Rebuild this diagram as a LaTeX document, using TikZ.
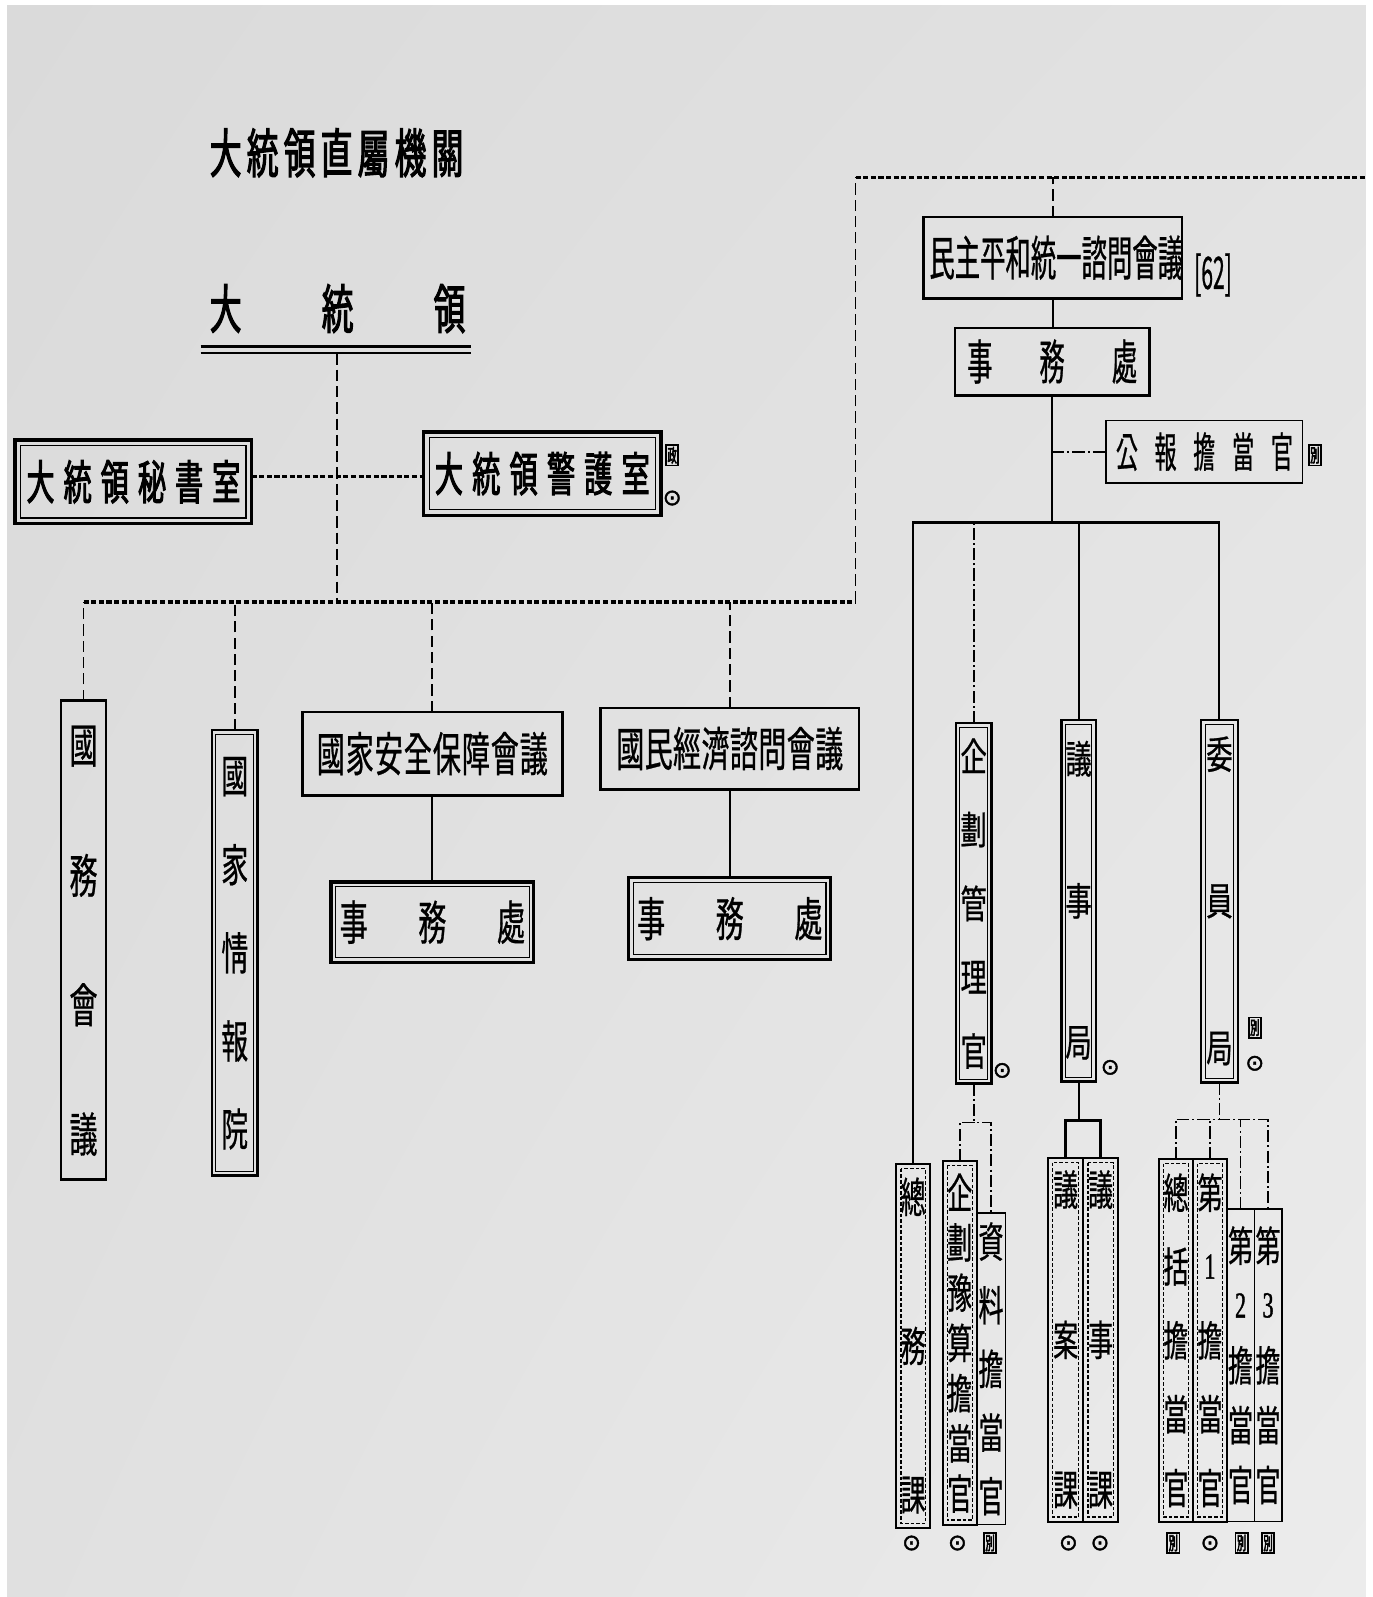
\documentclass[tikz,border=0pt]{standalone}
\usepackage{fontspec}
\usetikzlibrary{shadings}
\newfontfamily\fB{Noto Sans CJK KR}[FakeStretch=0.6, FakeBold=2]
\newfontfamily\fM{Noto Sans CJK KR}[FakeStretch=0.6, FakeBold=0.6]
\newfontfamily\fN{Noto Sans CJK KR}[FakeStretch=0.53, FakeBold=0.6]
\newfontfamily\fP{Noto Sans CJK KR}[FakeStretch=0.68, FakeBold=0.6]
\newfontfamily\fQ{Noto Sans CJK KR}[FakeStretch=0.47, FakeBold=0.6]
\newfontfamily\fI{Noto Sans CJK KR}[FakeStretch=0.5, FakeBold=3]
\newfontfamily\digf{Liberation Serif}[FakeStretch=0.6, FakeBold=1]
\newfontfamily\symf{DejaVu Sans}[FakeBold=2]
\newcommand\fs[1]{\fontsize{#1}{#1}\selectfont}
\newcommand\spr[2]{\makebox[#1][s]{#2}}
\newcommand\vch[1]{\hbox to 0pt{\hss\vbox to 1em{\vss\hbox{#1}\vss}\hss}}
\newcommand\vstk[2]{\vbox to #1{\offinterlineskip #2}}
\newcommand\dg[1]{\vch{\digf\fs{36}#1}}
\newcommand\inr[3]{\draw[line width=#1,#3] ([shift={(#2,-#2)}]path picture bounding box.north west) rectangle ([shift={(-#2,#2)}]path picture bounding box.south east);}
\definecolor{bgUL}{HTML}{DADADA}
\definecolor{bgUR}{HTML}{E2E2E2}
\definecolor{bgLL}{HTML}{E0E0E0}
\definecolor{bgLR}{HTML}{ECECEC}
\tikzset{
  every node/.style={inner sep=0pt, outer sep=0pt},
  bx/.style={draw=black, line width=2.6pt},
  thinbx/.style={draw=black, line width=1.5pt},
  dblbig/.style={draw=black, line width=3.5pt, path picture={\inr{1.2pt}{5.5pt}{}}},
  dblbx/.style={draw=black, line width=3pt, path picture={\inr{1.1pt}{4.5pt}{}}},
  dblsm/.style={draw=black, line width=2.4pt, path picture={\inr{1pt}{4pt}{}}},
  dshbx/.style={draw=black, line width=2pt, path picture={\inr{1.3pt}{4.5pt}{dash pattern=on 3.5pt off 2pt}}},
  solidln/.style={line width=2pt},
  thickln/.style={line width=3pt},
  dbus/.style={line width=3.2pt, dash pattern=on 5pt off 2.5pt},
  dlong/.style={line width=1.8pt, dash pattern=on 11pt off 5pt},
  dashdot/.style={line width=1.6pt, dash pattern=on 12pt off 3pt on 2pt off 3pt},
  icbox/.style={draw=black, line width=1.8pt, minimum width=12pt, minimum height=20pt, font=\fI\fs{18}},
  icdot/.style={font=\symf\fs{22}},
}
\begin{document}
\begin{tikzpicture}[x=1pt,y=-1pt]
\useasboundingbox (0,0) rectangle (1348,1568);
\fill[white] (0,0) rectangle (1348,1568);
\shade[upper left=bgUL, upper right=bgUR, lower left=bgLL, lower right=bgLR] (7,5) rectangle (1341,1568);

% ---------- top left ----------
\node[font=\fB\fs{52}] (title) at (330.5,150) {\spr{249pt}{大\hfill 統\hfill 領\hfill 直\hfill 屬\hfill 機\hfill 關}};
\node[font=\fB\fs{52}] (pres) at (331.5,303) {\spr{251pt}{大\hfill 統\hfill 領}};
\draw[line width=3pt] (197,340.5) -- (462,340.5);
\draw[line width=2pt] (197,346.5) -- (462,346.5);
\coordinate (presbar) at (331,347);

\node[dblbig, minimum width=232pt, minimum height=82pt, font=\fB\fs{46}] (sec) at (131,473) {\spr{210pt}{大\hfill 統\hfill 領\hfill 秘\hfill 書\hfill 室}};
\node[dblbig, minimum width=233pt, minimum height=82pt, font=\fB\fs{46}] (guard) at (532.5,465) {\spr{211pt}{大\hfill 統\hfill 領\hfill 警\hfill 護\hfill 室}};
\node[icbox] (gicon) at (660,447) {政};
\node[icdot] (gdot) at (660,489) {⊙};
\coordinate (cj0) at (331,468);

% ---------- left column boxes ----------
\node[bx, minimum width=44pt, minimum height=470pt, font=\fM\fs{46}] (kuk) at (82,923)
  {\vstk{427pt}{\vch{國}\vfill\vch{務}\vfill\vch{會}\vfill\vch{議}}};
\node[dblsm, minimum width=45pt, minimum height=437pt, font=\fM\fs{44}] (nis) at (230.5,935.5)
  {\vstk{390pt}{\vch{國}\vfill\vch{家}\vfill\vch{情}\vfill\vch{報}\vfill\vch{院}}};
\node[bx, minimum width=255pt, minimum height=82pt, font=\fM\fs{46}] (nsc) at (424.5,740)
  {\spr{227pt}{國\hfill 家\hfill 安\hfill 全\hfill 保\hfill 障\hfill 會\hfill 議}};
\node[dblbx, minimum width=199pt, minimum height=79pt, font=\fM\fs{46}] (nscsec) at (424.5,905.5)
  {\spr{182pt}{事\hfill 務\hfill 處}};
\node[bx, minimum width=254pt, minimum height=80pt, font=\fM\fs{46}] (nec) at (716.5,735)
  {\spr{223pt}{國\hfill 民\hfill 經\hfill 濟\hfill 諮\hfill 問\hfill 會\hfill 議}};
\node[dblbx, minimum width=198pt, minimum height=80pt, font=\fM\fs{46}] (necsec) at (716.5,902)
  {\spr{182pt}{事\hfill 務\hfill 處}};

\coordinate (busR) at (840,591);
\coordinate (topL) at (840,174);
\coordinate (topR) at (1342,174);

% ---------- right top ----------
\node[bx, minimum width=254pt, minimum height=80pt, font=\fN\fs{47}] (puac) at (1033.5,253)
  {\spr{242pt}{民\hfill 主\hfill 平\hfill 和\hfill 統\hfill 一\hfill 諮\hfill 問\hfill 會\hfill 議}};
\node[font=\fQ\fs{44}] (n62) at (1191,270) {[62]};
\node[bx, minimum width=191pt, minimum height=66pt, font=\fN\fs{47}] (puacsec) at (1033,355)
  {\spr{167pt}{事\hfill 務\hfill 處}};
\node[thinbx, minimum width=193pt, minimum height=61pt, font=\fN\fs{41}] (pr) at (1182.5,443.5)
  {\spr{174pt}{公\hfill 報\hfill 擔\hfill 當\hfill 官}};
\node[icbox] (pricon) at (1291,447) {別};
\coordinate (bar) at (1033,513);

% ---------- right middle ----------
\node[dblsm, minimum width=35pt, minimum height=354pt, font=\fP\fs{38}] (plan) at (956,887)
  {\vstk{328pt}{\vch{企}\vfill\vch{劃}\vfill\vch{管}\vfill\vch{理}\vfill\vch{官}}};
\node[dblsm, minimum width=34pt, minimum height=355pt, font=\fP\fs{38}] (leg) at (1059,884.5)
  {\vstk{317pt}{\vch{議}\vfill\vch{事}\vfill\vch{局}}};
\node[dblsm, minimum width=36pt, minimum height=356pt, font=\fP\fs{38}] (com) at (1197.3,885)
  {\vstk{327pt}{\vch{委}\vfill\vch{員}\vfill\vch{局}}};
\node[icdot] (planic) at (984,1051) {⊙};
\node[icdot] (legic) at (1090,1048) {⊙};
\node[icbox] (comic1) at (1232,1009) {別};
\node[icdot] (comic2) at (1232,1044) {⊙};

% ---------- bottom row ----------
\node[dshbx, minimum width=33pt, minimum height=357pt, font=\fM\fs{41}] (gad) at (896.5,1321.5)
  {\vstk{334pt}{\vch{總}\vfill\vch{務}\vfill\vch{課}}};
\node[dshbx, minimum width=33.5pt, minimum height=357pt, font=\fM\fs{41}] (planbud) at (942.3,1318.5)
  {\vstk{337pt}{\vch{企}\vfill\vch{劃}\vfill\vch{豫}\vfill\vch{算}\vfill\vch{擔}\vfill\vch{當}\vfill\vch{官}}};
\node[thinbx, minimum width=28pt, minimum height=306pt, font=\fM\fs{41}] (data) at (973,1344)
  {\vstk{291pt}{\vch{資}\vfill\vch{料}\vfill\vch{擔}\vfill\vch{當}\vfill\vch{官}}};
\node[dshbx, minimum width=34.5pt, minimum height=357pt, font=\fM\fs{41}] (bill) at (1046.3,1315.5)
  {\vstk{336pt}{\vch{議}\vfill\vch{案}\vfill\vch{課}}};
\node[dshbx, minimum width=34pt, minimum height=357pt, font=\fM\fs{41}] (proc) at (1080.6,1315.5)
  {\vstk{336pt}{\vch{議}\vfill\vch{事}\vfill\vch{課}}};
\node[dshbx, minimum width=33pt, minimum height=356pt, font=\fM\fs{41}] (gen) at (1154.6,1316)
  {\vstk{331pt}{\vch{總}\vfill\vch{括}\vfill\vch{擔}\vfill\vch{當}\vfill\vch{官}}};
\node[dshbx, minimum width=33pt, minimum height=356pt, font=\fM\fs{41}] (first) at (1188,1316)
  {\vstk{331pt}{\vch{第}\vfill\dg{1}\vfill\vch{擔}\vfill\vch{當}\vfill\vch{官}}};
\node[thinbx, minimum width=27pt, minimum height=307pt, font=\fM\fs{41}] (second) at (1218,1340.5)
  {\vstk{276pt}{\vch{第}\vfill\dg{2}\vfill\vch{擔}\vfill\vch{當}\vfill\vch{官}}};
\node[thinbx, minimum width=27pt, minimum height=307pt, font=\fM\fs{41}] (third) at (1245,1340.5)
  {\vstk{276pt}{\vch{第}\vfill\dg{3}\vfill\vch{擔}\vfill\vch{當}\vfill\vch{官}}};

\node[icdot] (b1) at (895,1515) {⊙};
\node[icdot] (b2) at (940,1515) {⊙};
\node[icbox] (b3) at (972,1515) {別};
\node[icdot] (b4) at (1049,1515) {⊙};
\node[icdot] (b5) at (1080,1515) {⊙};
\node[icbox] (b6) at (1152,1515) {別};
\node[icdot] (b7) at (1188,1515) {⊙};
\node[icbox] (b8) at (1219,1515) {別};
\node[icbox] (b9) at (1245,1515) {別};

% ---------- connectors ----------
\draw[dlong] (presbar) -- (presbar |- busR);
\draw[dbus] (sec.east |- cj0) -- (guard.west |- cj0);
\draw[dbus] (kuk.north |- busR) -- (busR);
\draw[dlong] (busR) -- (topL);
\draw[dbus] (topL) -- (topR);
\draw[dlong] (kuk.north) -- (kuk.north |- busR);
\draw[dlong] (nis.north) -- (nis.north |- busR);
\draw[dlong] (nsc.north) -- (nsc.north |- busR);
\draw[dlong] (nec.north) -- (nec.north |- busR);
\draw[solidln] (nsc.south) -- (nscsec.north);
\draw[solidln] (nec.south) -- (necsec.north);

\draw[dlong] (puac.north) -- (puac.north |- topL);
\draw[solidln] (puac.south) -- (puac.south |- puacsec.north);
\draw[solidln] (puacsec.south) -- (bar);
\draw[dashdot] (pr.west -| bar) -- (pr.west);
\draw[solidln] (gad.north) |- (bar) -| (com.north);
\draw[dashdot] (plan.north) -- (plan.north |- bar);
\draw[solidln] (leg.north) -- (leg.north |- bar);

\coordinate (pj) at (956,1102);
\draw[dashdot] (plan.south) -- (pj);
\draw[dashdot] (planbud.north) |- (pj) -| (data.north);
\coordinate (lj) at (1059,1100);
\draw[solidln] (leg.south) -- (lj);
\draw[thickln] (bill.north) |- (lj) -| (proc.north);
\coordinate (cj) at (1197.3,1099);
\draw[dashdot] (com.south) -- (cj);
\draw[dashdot] (gen.north) |- (cj) -| (third.north);
\draw[dashdot] (first.north) -- (first.north |- cj);
\draw[dashdot] (second.north) -- (second.north |- cj);
\end{tikzpicture}
\end{document}
